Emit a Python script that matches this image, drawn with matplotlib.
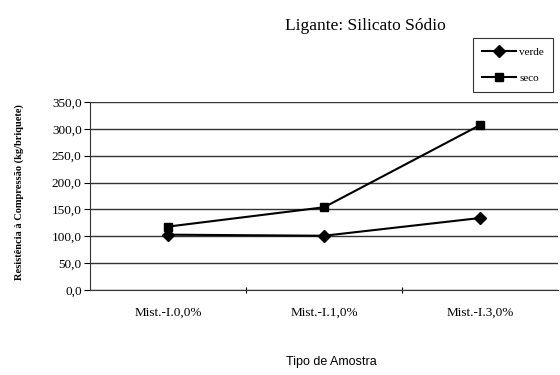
import matplotlib
matplotlib.use("Agg")
import matplotlib.pyplot as plt
import numpy as np

categories = ["Mist.-I.0,0%", "Mist.-I.1,0%", "Mist.-I.3,0%"]
verde = [103, 101, 134]
seco = [118, 154, 307]
yticks = [0, 50, 100, 150, 200, 250, 300, 350]
ytick_labels = ["0,0", "50,0", "100,0", "150,0", "200,0", "250,0", "300,0", "350,0"]

plt.rcParams['font.family'] = ['Liberation Serif', 'DejaVu Serif']

fig = plt.figure(figsize=(5.6, 3.75), dpi=100)
ax = fig.add_axes([90/560, 1-290/375, 468/560, 188/375])

x = np.arange(len(categories))
ax.plot(x, verde, color='black', lw=1.5, marker='D', ms=6, label='verde')
ax.plot(x, seco, color='black', lw=1.5, marker='s', ms=6, label='seco')

ax.set_xlim(-0.5, 2.5)
ax.set_ylim(0, 350)
ax.set_yticks(yticks)
ax.set_yticklabels(ytick_labels, fontsize=9.5)
ax.set_xticks([0.5, 1.5], minor=False)
ax.set_xticklabels(["", ""])
ax.tick_params(axis='x', length=4, direction='inout')
ax.tick_params(axis='y', length=4, direction='out', pad=2)
for xi, c in zip(x, categories):
    ax.text(xi, -0.09, c, transform=ax.get_xaxis_transform(), ha='center', va='top', fontsize=9.5)
ax.grid(axis='y', color='#333333', lw=1)
ax.set_axisbelow(True)
for s in ['top', 'right']:
    ax.spines[s].set_visible(False)
ax.spines['left'].set_color('#333333')
ax.spines['bottom'].set_color('#333333')

fig.text(19/560, 1-192/375, "Resistência à Compressão (kg/briquete)", rotation=90,
         ha='center', va='center', fontsize=7.5, fontweight='bold')
fig.text(331/560, 1-362/375, "Tipo de Amostra", ha='center', va='center', fontsize=9,
         family=['Liberation Sans Narrow', 'Liberation Sans'])
fig.text(365/560, 1-26/375, "Ligante: Silicato Sódio", ha='center', va='center', fontsize=12.5)

leg = fig.legend(loc='upper left', bbox_to_anchor=(473/560, 1-38/375), fontsize=8, frameon=True,
                 fancybox=False, edgecolor='black', handlelength=3.1, borderpad=0.8, labelspacing=1.5,
                 handletextpad=0.25, borderaxespad=0)
leg.get_frame().set_linewidth(0.8)

fig.savefig("out.png", dpi=100)
